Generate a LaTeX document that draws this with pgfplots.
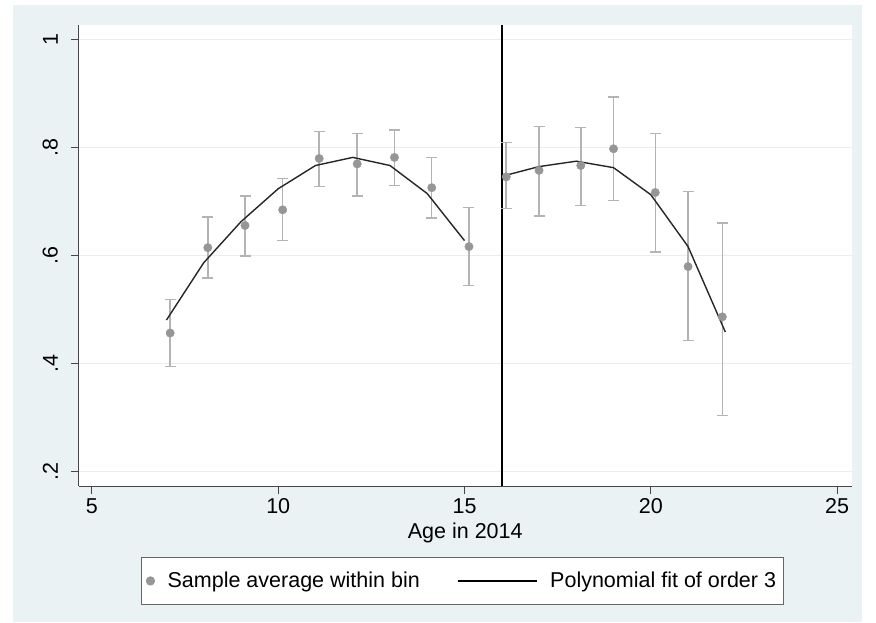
\documentclass[border=0pt]{standalone}
\usepackage{pgfplots}
\pgfplotsset{compat=1.18}
\usepackage{pgfplotstable}
\usepackage{fontspec}
\setmainfont{Liberation Sans}
\definecolor{bgc}{RGB}{234,242,243}
\definecolor{gridc}{RGB}{232,238,240}
\definecolor{ptgray}{RGB}{150,150,150}
\definecolor{cigray}{RGB}{180,180,180}
\definecolor{axc}{RGB}{70,70,70}

\pgfplotstableread{
x     y      lo     hi
7.10  0.456  0.394  0.518
8.11  0.614  0.558  0.671
9.11  0.655  0.599  0.710
10.12 0.684  0.627  0.742
11.10 0.779  0.727  0.829
12.12 0.769  0.710  0.825
13.12 0.781  0.729  0.832
14.12 0.725  0.669  0.781
15.12 0.616  0.544  0.688
16.12 0.745  0.686  0.809
17.00 0.757  0.673  0.838
18.12 0.766  0.692  0.836
19.00 0.797  0.701  0.893
20.12 0.716  0.606  0.825
21.00 0.579  0.442  0.718
21.92 0.486  0.303  0.660
}\bins

\pgfplotstableread{
x   f
7   0.480
8   0.586
9   0.662
10  0.723
11  0.766
12  0.781
13  0.766
14  0.714
15  0.627
}\fitleft

\pgfplotstableread{
x   f
16  0.746
17  0.764
18  0.774
19  0.762
20  0.712
21  0.616
22  0.458
}\fitright

\begin{document}
\begin{tikzpicture}
\path[use as bounding box] (0,0) rectangle (876pt,622pt);
\fill[white] (0,0) rectangle (876pt,622pt);
\fill[bgc] (13pt,0) rectangle (862pt,617pt);
\begin{axis}[
  at={(78.5pt,136pt)}, anchor=south west,
  scale only axis, width=773.5pt, height=461pt,
  xmin=4.64, xmax=25.4, ymin=0.173, ymax=1.026,
  axis background/.style={fill=white},
  axis x line*=bottom, axis y line*=left,
  axis line style={-, draw=axc, line width=1pt},
  xtick={5,10,15,20,25},
  ytick={0.2,0.4,0.6,0.8,1},
  yticklabels={.2,.4,.6,.8,1},
  minor tick num=0,
  tick align=outside,
  tick style={draw=axc, line width=1pt},
  major tick length=7.5pt,
  ymajorgrids, grid style={draw=gridc, line width=1pt},
  /pgf/number format/assume math mode=true,
  ticklabel style={font=\fontsize{21.5}{25}\selectfont, inner sep=0pt},
  xticklabel style={anchor=north, yshift=-5pt},
  yticklabel style={rotate=90, anchor=south, yshift=13pt},
  xlabel={Age in 2014},
  xlabel style={font=\fontsize{21.5}{25}\selectfont, inner sep=0pt, at={(axis description cs:0.5,0)}, anchor=north, yshift=-37pt},
  legend columns=2,
  legend style={at={(axis description cs:0.496,-0.154)}, anchor=north,
    draw=black!60, fill=white, line width=0.8pt,
    font=\fontsize{21.5}{25}\selectfont,
    inner xsep=5pt, inner ysep=13pt,
    /tikz/every odd column/.append style={column sep=11pt},
    /tikz/every even column/.append style={column sep=35pt}},
  clip=false,
]
\addplot[forget plot, black, line width=2pt] coordinates {(16,0.173) (16,1.026)};
\addplot[only marks, mark=*, mark size=4.2pt, color=ptgray,
  mark options={draw=ptgray, fill=ptgray},
  error bars/.cd, y dir=both, y explicit,
  error bar style={draw=cigray, line width=1.5pt},
  error mark options={draw=cigray, line width=1.5pt, mark size=5.5pt, rotate=90}]
  table[x=x, y=y, y error plus expr=\thisrow{hi}-\thisrow{y}, y error minus expr=\thisrow{y}-\thisrow{lo}] {\bins};
\addlegendentry{Sample average within bin}
\addplot[black!85, line width=1.4pt, mark=none,
  legend image code/.code={\draw[black, line width=1.4pt] (0pt,0pt) -- (79pt,0pt);}]
  table[x=x, y=f] {\fitleft};
\addlegendentry{Polynomial fit of order 3}
\addplot[forget plot, black!85, line width=1.4pt, mark=none] table[x=x, y=f] {\fitright};
\end{axis}
\end{tikzpicture}
\end{document}
